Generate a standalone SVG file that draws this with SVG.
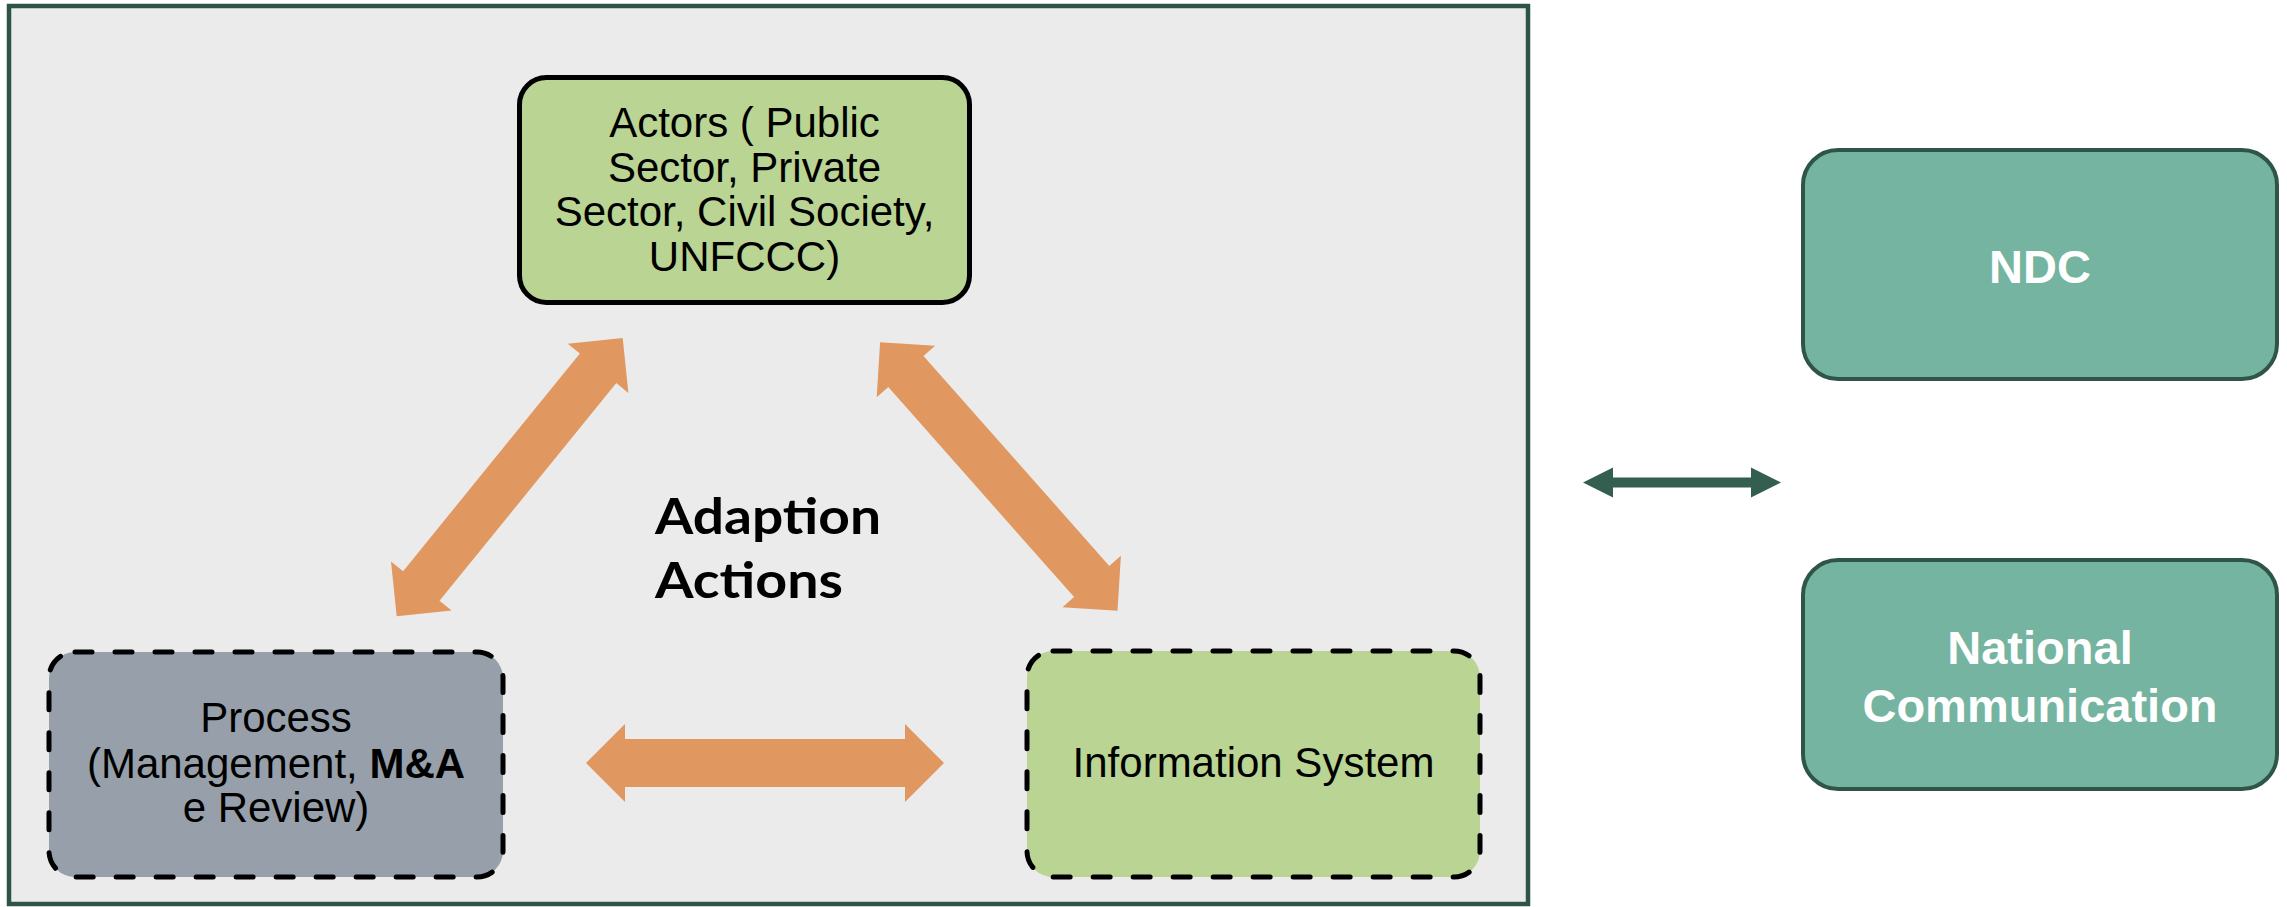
<svg xmlns="http://www.w3.org/2000/svg" width="2287" height="907" viewBox="0 0 2287 907">
  <style>
    .body { font-family: "Liberation Sans", Arial, sans-serif; font-size: 42px; fill: #000000; text-anchor: middle; }
    .white { font-family: "Liberation Sans", Arial, sans-serif; font-size: 47px; font-weight: bold; fill: #ffffff; text-anchor: middle; }
    .title { font-family: "Lato", "Liberation Sans", sans-serif; font-size: 50px; font-weight: bold; fill: #000000; }
    .solid { stroke: #000000; stroke-width: 5; }
    .dashed { stroke: #000000; stroke-width: 5; stroke-dasharray: 17 23; stroke-linecap: round; }
    .teal { fill: #74b4a0; stroke: #2f5548; stroke-width: 4; }
    .orange { fill: #e19760; }
    .dark { fill: #335e50; }
  </style>
  <rect width="2287" height="907" fill="#ffffff"/>
  <g id="frame">
    <rect x="9" y="6" width="1519" height="898" fill="#ebebeb" stroke="#2d5446" stroke-width="4.5"/>
  </g>
  <g id="connectors">
    <polygon class="orange" points="622.7,338 628.4,392.9 616.3,383.1 439.5,600.8 451.6,610.6 396.7,616.3 391,561.4 403.1,571.2 579.9,353.5 567.8,343.7"/>
    <polygon class="orange" points="880.1,342.3 935.1,345.7 923.5,355.9 1109.3,565.9 1120.9,555.7 1117.5,610.7 1062.5,607.3 1074.1,597.1 888.3,387.1 876.7,397.3"/>
    <polygon class="orange" points="586,763 625,724 625,739 905,739 905,724 944,763 905,802 905,787 625,787 625,802"/>
    <polygon class="dark" points="1583,482.5 1613,467.5 1613,477.5 1751,477.5 1751,467.5 1781,482.5 1751,497.5 1751,487.5 1613,487.5 1613,497.5"/>
  </g>
  <g id="label-adaption">
    <text class="title" x="655" y="534" textLength="226" lengthAdjust="spacingAndGlyphs">Adaption</text>
    <text class="title" x="655" y="598" textLength="188" lengthAdjust="spacingAndGlyphs">Actions</text>
  </g>
  <g id="node-actors">
    <rect x="519.5" y="77.5" width="450" height="225" rx="27" fill="#bad493" class="solid"/>
    <text class="body" x="744.5" y="137">Actors ( Public</text>
    <text class="body" x="744.5" y="181.5">Sector, Private</text>
    <text class="body" x="744.5" y="226">Sector, Civil Society,</text>
    <text class="body" x="744.5" y="270.5">UNFCCC)</text>
  </g>
  <g id="node-process">
    <rect x="49" y="652" width="454" height="225" rx="26" fill="#97a0aa" class="dashed"/>
    <text class="body" x="276" y="732">Process</text>
    <text class="body" x="276" y="777.5">(Management, <tspan font-weight="bold">M&amp;A</tspan></text>
    <text class="body" x="276" y="822">e Review)</text>
  </g>
  <g id="node-information">
    <rect x="1027" y="651" width="453" height="226" rx="26" fill="#bad493" class="dashed"/>
    <text class="body" x="1253.5" y="777">Information System</text>
  </g>
  <g id="node-ndc">
    <rect x="1803" y="150" width="474" height="229" rx="35" class="teal"/>
    <text class="white" x="2040" y="283">NDC</text>
  </g>
  <g id="node-national-communication">
    <rect x="1803" y="560" width="474" height="229" rx="35" class="teal"/>
    <text class="white" x="2040" y="664">National</text>
    <text class="white" x="2040" y="722">Communication</text>
  </g>
</svg>
